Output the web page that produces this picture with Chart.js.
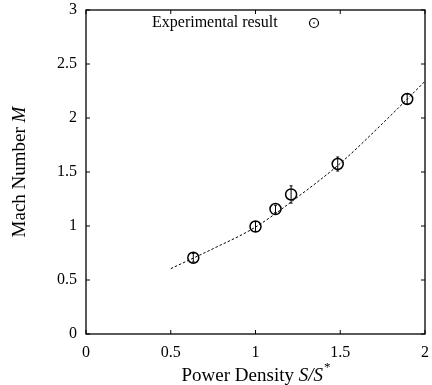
<!DOCTYPE html>
<html>
<head>
<meta charset="utf-8">
<script src="https://cdn.jsdelivr.net/npm/chart.js@4"></script>
<style>
  html, body { margin: 0; padding: 0; background: #fff; }
  #wrap { width: 432px; height: 385px; }
</style>
</head>
<body>
<div id="wrap"><canvas id="mach-chart"></canvas></div>
<script>
// measured points (power density S/S*, Mach number M, error)
const powerDensity = [0.633, 1.0, 1.118, 1.21, 1.485, 1.895];
const machNumber = [0.706, 0.995, 1.157, 1.292, 1.574, 2.176];
const machError = [0.04, 0.045, 0.035, 0.08, 0.065, 0.045];

// dashed fit curve
const fitX = [0.5, 0.75, 1.0, 1.25, 1.5, 1.75, 2.0];
const fitY = [0.605, 0.79, 0.99, 1.27, 1.58, 1.95, 2.34];

const xTicks = [0, 0.5, 1, 1.5, 2];
const yTicks = [0, 0.5, 1, 1.5, 2, 2.5, 3];

const serif = "'Liberation Serif', 'DejaVu Serif', serif";

// frame, inward ticks, error bars, legend and axis titles
const decorations = {
  id: 'decorations',
  afterDatasetsDraw(chart) {
    const ctx = chart.ctx;
    const area = chart.chartArea;
    const xs = chart.scales.x;
    const ys = chart.scales.y;
    ctx.save();
    ctx.strokeStyle = '#000';
    ctx.fillStyle = '#000';

    // error bars
    ctx.lineWidth = 1;
    powerDensity.forEach((v, i) => {
      const px = xs.getPixelForValue(v);
      const top = ys.getPixelForValue(machNumber[i] + machError[i]);
      const bot = ys.getPixelForValue(machNumber[i] - machError[i]);
      ctx.beginPath();
      ctx.moveTo(px, top); ctx.lineTo(px, bot);
      ctx.moveTo(px - 1.5, top); ctx.lineTo(px + 1.5, top);
      ctx.moveTo(px - 1.5, bot); ctx.lineTo(px + 1.5, bot);
      ctx.stroke();
    });

    // frame
    ctx.lineWidth = 1.3;
    ctx.strokeRect(area.left, area.top, area.right - area.left, area.bottom - area.top);

    // inward ticks
    ctx.lineWidth = 1;
    ctx.beginPath();
    xTicks.forEach(t => {
      const px = xs.getPixelForValue(t);
      ctx.moveTo(px, area.bottom); ctx.lineTo(px, area.bottom - 4);
      ctx.moveTo(px, area.top); ctx.lineTo(px, area.top + 4);
    });
    yTicks.forEach(t => {
      const py = ys.getPixelForValue(t);
      ctx.moveTo(area.left, py); ctx.lineTo(area.left + 4, py);
      ctx.moveTo(area.right, py); ctx.lineTo(area.right - 4, py);
    });
    ctx.stroke();

    // legend
    ctx.font = '16px ' + serif;
    ctx.textBaseline = 'middle';
    ctx.textAlign = 'left';
    ctx.fillText('Experimental result', 152, 23);
    ctx.beginPath();
    ctx.lineWidth = 1.2;
    ctx.arc(314, 23, 4.5, 0, Math.PI * 2);
    ctx.stroke();
    ctx.beginPath();
    ctx.arc(314, 23, 0.8, 0, Math.PI * 2);
    ctx.fill();

    // x title: Power Density S/S*
    const tf = 19;
    ctx.font = tf + 'px ' + serif;
    ctx.textBaseline = 'alphabetic';
    const part1 = 'Power Density ';
    const w1 = ctx.measureText(part1).width;
    ctx.font = 'italic ' + tf + 'px ' + serif;
    const w2 = ctx.measureText('S/S').width;
    ctx.font = '13px ' + serif;
    const w3 = ctx.measureText('*').width;
    let x0 = (area.left + area.right) / 2 - (w1 + w2 + w3) / 2;
    const base = 381;
    ctx.font = tf + 'px ' + serif;
    ctx.fillText(part1, x0, base);
    ctx.font = 'italic ' + tf + 'px ' + serif;
    ctx.fillText('S/S', x0 + w1, base);
    ctx.font = '13px ' + serif;
    ctx.fillText('*', x0 + w1 + w2 + 1, base - 10);

    // y title: Mach Number M
    ctx.translate(25, (area.top + area.bottom) / 2);
    ctx.rotate(-Math.PI / 2);
    ctx.font = tf + 'px ' + serif;
    const m1 = 'Mach Number ';
    const mw1 = ctx.measureText(m1).width;
    ctx.font = 'italic ' + tf + 'px ' + serif;
    const mw2 = ctx.measureText('M').width;
    const y0 = -(mw1 + mw2) / 2;
    ctx.font = tf + 'px ' + serif;
    ctx.fillText(m1, y0, 0);
    ctx.font = 'italic ' + tf + 'px ' + serif;
    ctx.fillText('M', y0 + mw1, 0);
    ctx.restore();
  }
};

// drop the extra room Chart.js keeps for the end tick labels
const noLabelPadding = s => {
  s.paddingLeft = 0;
  s.paddingRight = 0;
  s.paddingTop = 0;
  s.paddingBottom = 0;
};

new Chart('mach-chart', {
  type: 'scatter',
  data: {
    datasets: [{
      label: 'Fit',
      type: 'line',
      data: fitX.map((x, i) => ({ x: x, y: fitY[i] })),
      borderColor: '#000',
      borderWidth: 1,
      borderDash: [2.5, 2],
      pointRadius: 0,
      cubicInterpolationMode: 'monotone',
      fill: false
    }, {
      label: 'Experimental result',
      data: powerDensity.map((x, i) => ({ x: x, y: machNumber[i] })),
      pointStyle: 'circle',
      pointRadius: 5.5,
      pointBorderWidth: 1.5,
      pointBorderColor: '#000',
      pointBackgroundColor: 'rgba(255,255,255,0)'
    }]
  },
  options: {
    responsive: true,
    maintainAspectRatio: false,
    animation: false,
    layout: { padding: { left: 0, right: 4, top: 10, bottom: 0 } },
    plugins: {
      legend: { display: false },
      tooltip: { enabled: false }
    },
    scales: {
      x: {
        type: 'linear',
        min: 0, max: 2,
        afterBuildTicks: s => { s.ticks = xTicks.map(v => ({ value: v })); },
        afterFit: s => { s.height = 51; noLabelPadding(s); },
        grid: { display: false, drawTicks: false },
        border: { display: false },
        ticks: {
          padding: 9,
          color: '#000',
          font: { family: serif, size: 16 },
          callback: v => String(v)
        }
      },
      y: {
        type: 'linear',
        min: 0, max: 3,
        afterBuildTicks: s => { s.ticks = yTicks.map(v => ({ value: v })); },
        afterFit: s => { s.width = 86; noLabelPadding(s); },
        grid: { display: false, drawTicks: false },
        border: { display: false },
        ticks: {
          padding: 9,
          color: '#000',
          font: { family: serif, size: 16 },
          callback: v => String(v)
        }
      }
    }
  },
  plugins: [decorations]
});
</script>
</body>
</html>
